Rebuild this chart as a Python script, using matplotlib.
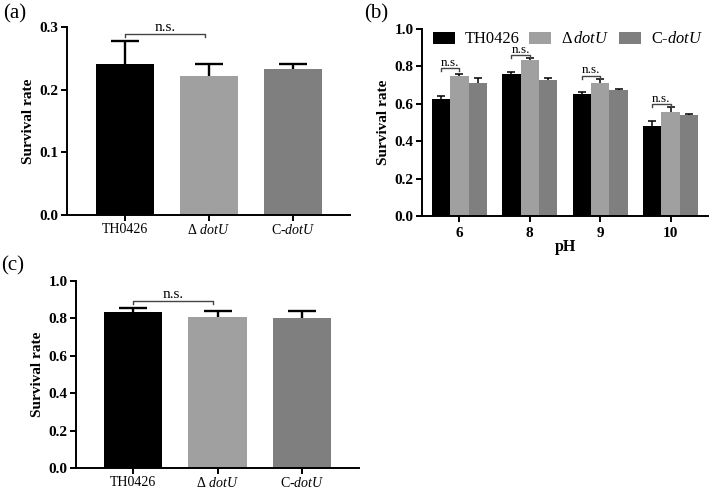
import matplotlib
matplotlib.use("Agg")
import matplotlib.pyplot as plt
import numpy as np

plt.rcParams['font.family'] = ['Liberation Serif', 'DejaVu Serif']
plt.rcParams['mathtext.fontset'] = 'custom'
plt.rcParams['mathtext.rm'] = 'Liberation Serif'
plt.rcParams['mathtext.it'] = 'Liberation Serif:italic'
plt.rcParams['mathtext.bf'] = 'Liberation Serif:bold'

# ---------------- data ----------------
strains = ['TH0426', r'Δ $\mathit{dotU}$', r'C-$\mathit{dotU}$']
colors = ['#000000', '#a0a0a0', '#7f7f7f']

a_vals = [0.241, 0.222, 0.233]
a_err = [0.037, 0.019, 0.009]

ph_labels = ['6', '8', '9', '10']
b_th0426 = [0.626, 0.761, 0.652, 0.480]
b_th0426_err = [0.014, 0.011, 0.011, 0.030]
b_dotU = [0.750, 0.832, 0.709, 0.555]
b_dotU_err = [0.011, 0.011, 0.023, 0.026]
b_cdotU = [0.711, 0.727, 0.672, 0.539]
b_cdotU_err = [0.027, 0.011, 0.009, 0.004]
b_ns_y = [0.791, 0.860, 0.750, 0.599]

c_vals = [0.834, 0.806, 0.804]
c_err = [0.021, 0.033, 0.037]

fig = plt.figure(figsize=(7.09, 4.91), dpi=100)

def style_axes(ax):
    for s in ['top', 'right']:
        ax.spines[s].set_visible(False)
    for s in ['left', 'bottom']:
        ax.spines[s].set_linewidth(1.4)
    ax.tick_params(axis='both', width=1.4, length=4.5, direction='out')
    ax.tick_params(axis='y', labelsize=11, pad=1.5)
    for lbl in ax.get_yticklabels():
        lbl.set_fontweight('bold')
    ax.set_ylabel('Survival rate', fontsize=11, fontweight='bold', labelpad=3)

def up_errors(ax, x, vals, errs, half_cap, lw):
    x = np.asarray(x, dtype=float)
    tops = np.asarray(vals) + np.asarray(errs)
    ax.vlines(x, vals, tops, colors='black', lw=lw, zorder=3)
    ax.hlines(tops, x - half_cap, x + half_cap, colors='black', lw=lw, zorder=3)

def single_panel(ax, vals, errs, ylim, yticks, ns_y, ns_drop, xlim):
    x = np.arange(len(vals))
    ax.bar(x, vals, width=0.69, color=colors, zorder=2)
    up_errors(ax, x, vals, errs, 0.165, 1.7)
    ax.set_xlim(*xlim)
    ax.set_ylim(*ylim)
    ax.set_yticks(yticks)
    ax.set_yticklabels([f'{t:.1f}' for t in yticks])
    ax.set_xticks(x)
    ax.set_xticklabels(strains, fontsize=10)
    ax.tick_params(axis='x', pad=1.5)
    style_axes(ax)
    ax.plot([0, 0, 0.95, 0.95], [ns_y - ns_drop, ns_y, ns_y, ns_y - ns_drop],
            color='#444444', lw=1.0, clip_on=False, zorder=4)
    ax.text(0.475, ns_y, 'n.s.', ha='center', va='bottom', fontsize=11)

# (a)
ax_a = fig.add_axes([0.0945, 0.5621, 0.3992, 0.3823])
single_panel(ax_a, a_vals, a_err, (0, 0.3), [0.0, 0.1, 0.2, 0.3], 0.289, 0.005, (-0.69, 2.68))

# (c)
ax_c = fig.add_axes([0.1072, 0.0468, 0.3992, 0.3809])
single_panel(ax_c, c_vals, c_err, (0, 1.0), [0.0, 0.2, 0.4, 0.6, 0.8, 1.0], 0.892, 0.017, (-0.67, 2.67))

# (b)
ax_b = fig.add_axes([0.5952, 0.5601, 0.4034, 0.3809])
xb = np.arange(len(ph_labels))
w = 0.262
series = [(b_th0426, b_th0426_err, 'TH0426'),
          (b_dotU, b_dotU_err, r'Δ$\,\mathit{dotU}$'),
          (b_cdotU, b_cdotU_err, r'C-$\mathit{dotU}$')]
for i, (vals, errs, lab) in enumerate(series):
    pos = xb + (i - 1) * w
    ax_b.bar(pos, vals, width=w, color=colors[i], label=lab, zorder=2)
    up_errors(ax_b, pos, vals, errs, 0.055, 1.1)
ax_b.set_xlim(-0.53, 3.53)
ax_b.set_ylim(0, 1.0)
bt = [0.0, 0.2, 0.4, 0.6, 0.8, 1.0]
ax_b.set_yticks(bt)
ax_b.set_yticklabels([f'{t:.1f}' for t in bt])
ax_b.set_xticks(xb)
ax_b.set_xticklabels(ph_labels, fontsize=11, fontweight='bold')
ax_b.tick_params(axis='x', pad=3.5)
style_axes(ax_b)
ax_b.set_xlabel('pH', fontsize=11.5, fontweight='bold', labelpad=-1)
for g, y in zip(xb, b_ns_y):
    x0, x1 = g - w, g
    ax_b.plot([x0, x0, x1, x1], [y - 0.015, y, y, y - 0.015], color='#444444', lw=1.0, zorder=4)
    ax_b.text((x0 + x1) / 2, y - 0.004, 'n.s.', ha='center', va='bottom', fontsize=9.5)
ax_b.legend(ncol=3, loc='center left', bbox_to_anchor=(0.037, 0.945), frameon=False,
            borderaxespad=0, borderpad=0, handlelength=1.35, handleheight=0.75,
            handletextpad=0.6, columnspacing=0.6, fontsize=11.8)

# panel labels
fig.text(0.004, 0.992, '(a)', fontsize=15, va='top', ha='left')
fig.text(0.514, 0.992, '(b)', fontsize=15, va='top', ha='left')
fig.text(0.002, 0.478, '(c)', fontsize=15, va='top', ha='left')

fig.savefig('out.png', dpi=100)
